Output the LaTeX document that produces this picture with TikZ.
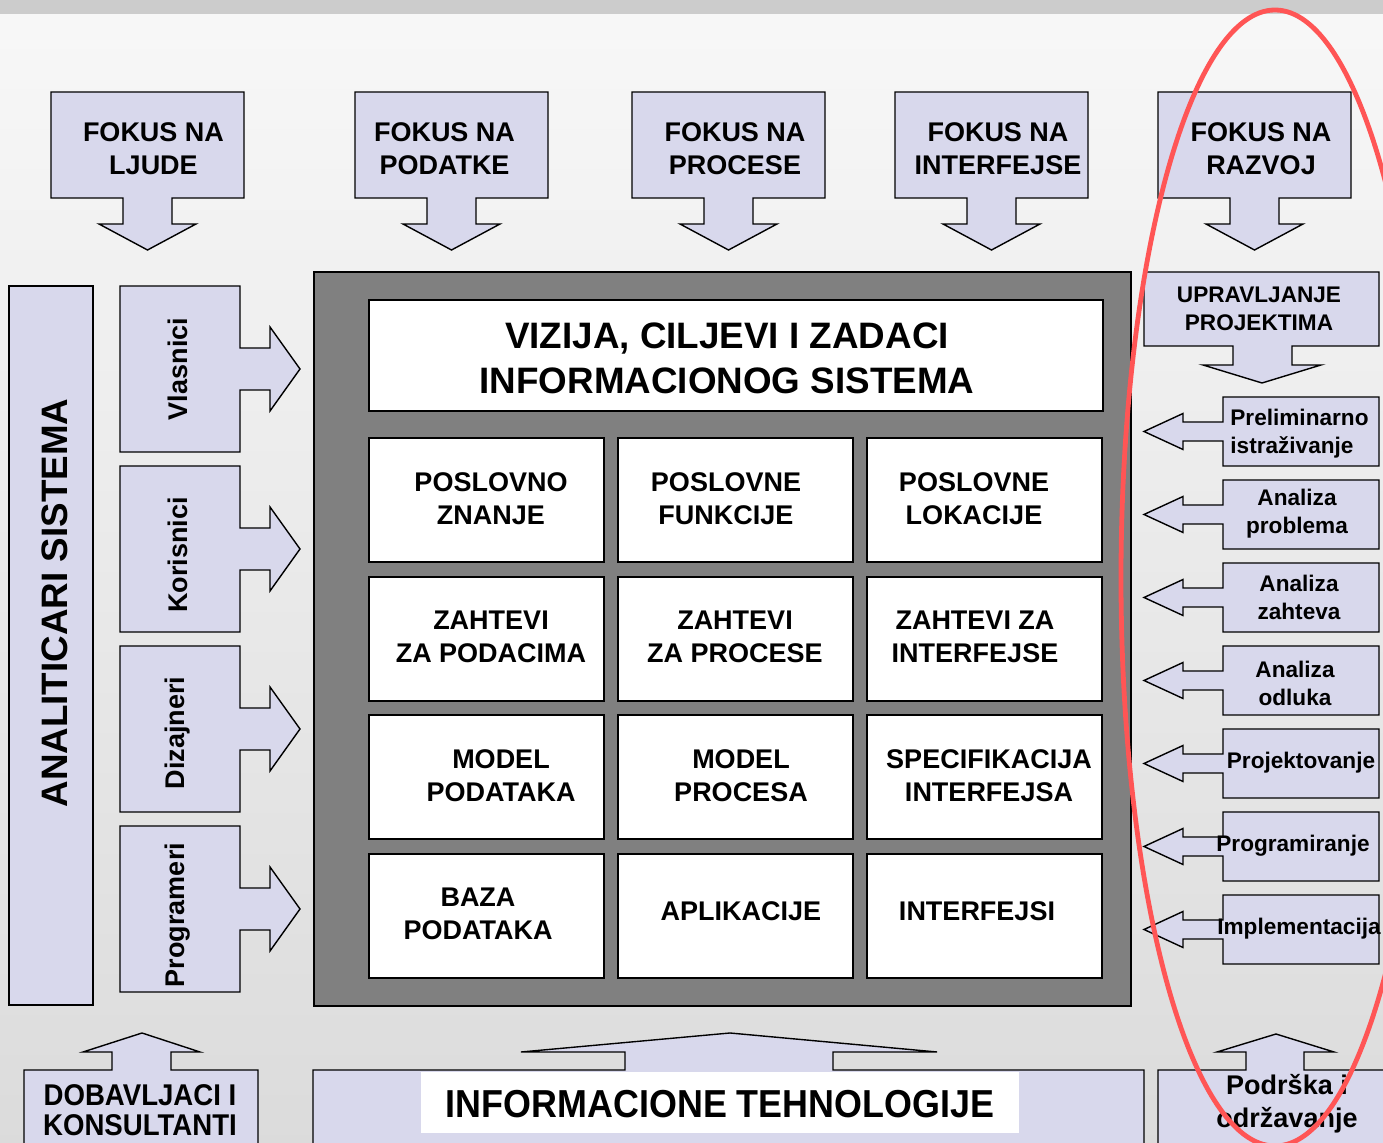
\documentclass[tikz,border=0pt]{standalone}
\usepackage{fontspec}
\setmainfont{Liberation Sans}
\newfontfamily\uskifont{Liberation Sans}[FakeStretch=0.92]

\definecolor{lavanda}{RGB}{216,216,236}
\definecolor{siva}{RGB}{128,128,128}
\definecolor{crvena}{RGB}{255,85,85}

\tikzset{
  kutija/.style={draw=black, line width=0.7pt, fill=lavanda},
  bela/.style={draw=black, line width=0.7pt, fill=white},
  natpis/.style={font=\bfseries\fontsize{13.5}{16.5}\selectfont, align=center, inner sep=0pt},
  mali/.style={font=\bfseries\fontsize{11.3}{14}\selectfont, align=center, inner sep=0pt},
  veliki/.style={font=\bfseries\fontsize{18.4}{22.5}\selectfont, align=center, inner sep=0pt},
  uski/.style={font=\uskifont\bfseries\fontsize{15}{15}\selectfont, align=center, inner sep=0pt},
}

\begin{document}
\begin{tikzpicture}[x=0.5pt, y=-0.5pt]
  \clip (0,0) rectangle (1383,1143);

  % Pozadina
  \fill[top color=black!3, bottom color=black!14] (0,14) rectangle (1383,1143);
  \fill[black!20] (0,0) rectangle (1383,14);

  % Fokus kutije gore
  \foreach \x in {51,355,632,895,1158}
    \draw[kutija] (\x,92) -- ++(193,0) -- ++(0,106) -- ++(-72,0) -- ++(0,26)
      -- ++(24,0) -- ++(-48.5,26) -- ++(-48.5,-26) -- ++(24,0) -- ++(0,-26) -- ++(-72,0) -- cycle;
  \node[natpis] (fokusLjude) at (153.5,149) {FOKUS NA\\LJUDE};
  \node[natpis] (fokusPodatke) at (444.5,149) {FOKUS NA\\PODATKE};
  \node[natpis] (fokusProcese) at (735,149) {FOKUS NA\\PROCESE};
  \node[natpis] (fokusInterfejse) at (998,149) {FOKUS NA\\INTERFEJSE};
  \node[natpis] (fokusRazvoj) at (1261,149) {FOKUS NA\\RAZVOJ};

  % Analiticari i ucesnici
  \draw[kutija] (9,286) rectangle (93,1005);
  \node[veliki, rotate=90] (analiticari) at (55,603) {ANALITICARI SISTEMA};
  \foreach \y in {286,466,646,826}
    \draw[kutija] (120,\y) -- (240,\y) -- (240,\y+62) -- (270,\y+62) -- (270,\y+41)
      -- (300,\y+83) -- (270,\y+125) -- (270,\y+104) -- (240,\y+104) -- (240,\y+166)
      -- (120,\y+166) -- cycle;
  \node[natpis, rotate=90] (vlasnici) at (178,369) {Vlasnici};
  \node[natpis, rotate=90] (korisnici) at (178,555) {Korisnici};
  \node[natpis, rotate=90] (dizajneri) at (178,733) {Dizajneri};
  \node[natpis, rotate=90] (programeri) at (178,915) {Programeri};

  % Centralni blok
  \draw[line width=0.7pt, fill=siva] (314,272) rectangle (1131,1006);
  \draw[bela] (369,300) rectangle (1103,411);
  \node[veliki] (vizija) at (727,358.5) {VIZIJA, CILJEVI I ZADACI\\INFORMACIONOG SISTEMA};
  \foreach \x in {369,618,867}
    \foreach \y in {438,577,715,854}
      \draw[bela] (\x,\y) rectangle ++(235,124);
  \node[natpis] (znanje) at (491,498.5) {POSLOVNO\\ZNANJE};
  \node[natpis] (funkcije) at (726,498.5) {POSLOVNE\\FUNKCIJE};
  \node[natpis] (lokacije) at (974,498.5) {POSLOVNE\\LOKACIJE};
  \node[natpis] (zPodaci) at (491,636.5) {ZAHTEVI\\ZA PODACIMA};
  \node[natpis] (zProcesi) at (735,636.5) {ZAHTEVI\\ZA PROCESE};
  \node[natpis] (zInterfejsi) at (975,636.5) {ZAHTEVI ZA\\INTERFEJSE};
  \node[natpis] (mPodataka) at (501,775.5) {MODEL\\PODATAKA};
  \node[natpis] (mProcesa) at (741,775.5) {MODEL\\PROCESA};
  \node[natpis] (specifikacija) at (989,775.5) {SPECIFIKACIJA\\INTERFEJSA};
  \node[natpis] (baza) at (478,913.5) {BAZA\\PODATAKA};
  \node[natpis] (aplikacije) at (741,911) {APLIKACIJE};
  \node[natpis] (interfejsi) at (977,911) {INTERFEJSI};

  % Razvoj, desna strana
  \draw[kutija] (1144,272) -- (1379,272) -- (1379,346) -- (1292,346) -- (1292,365)
    -- (1321,365) -- (1262,383) -- (1203,365) -- (1233,365) -- (1233,346) -- (1144,346) -- cycle;
  \node[mali] (upravljanje) at (1259,309) {UPRAVLJANJE\\PROJEKTIMA};
  \foreach \y in {397,480,563,646,729,812,895}
    \draw[kutija] (1223,\y) -- (1379,\y) -- (1379,\y+69) -- (1223,\y+69) -- (1223,\y+44)
      -- (1183,\y+44) -- (1183,\y+52.5) -- (1144,\y+34.5) -- (1183,\y+16.5) -- (1183,\y+25)
      -- (1223,\y+25) -- cycle;
  \node[mali, align=left, anchor=west] (preliminarno) at (1230,434) {Preliminarno\\istraživanje};
  \node[mali] (anProblema) at (1297,514) {Analiza\\problema};
  \node[mali] (anZahteva) at (1299,597) {Analiza\\zahteva};
  \node[mali] (anOdluka) at (1295,683) {Analiza\\odluka};
  \node[mali] (projektovanje) at (1301,763) {Projektovanje};
  \node[mali] (programiranje) at (1293,846) {Programiranje};
  \node[mali] (implementacija) at (1299,929) {Implementacija};

  % Donji red
  \draw[kutija] (24,1160) -- (24,1070) -- (112,1070) -- (112,1052) -- (83,1052) -- (142,1033)
    -- (200,1052) -- (171,1052) -- (171,1070) -- (258,1070) -- (258,1160) -- cycle;
  \node[uski] (dobavljaci) at (140,1110) {DOBAVLJACI I\\KONSULTANTI};
  \draw[kutija] (313,1160) -- (313,1070) -- (625,1070) -- (625,1052) -- (521,1052) -- (730,1033)
    -- (937,1052) -- (833,1052) -- (833,1070) -- (1144,1070) -- (1144,1160) -- cycle;
  \node[uski, font=\uskifont\bfseries\fontsize{19.5}{20}\selectfont, fill=white,
    minimum width=299pt, minimum height=30.5pt] (tehnologije) at (720,1102.5) {};
  \node[uski, font=\uskifont\bfseries\fontsize{19.5}{20}\selectfont] (tehnTekst) at (720,1104.5) {INFORMACIONE TEHNOLOGIJE};
  \draw[kutija] (1158,1160) -- (1158,1070) -- (1246,1070) -- (1246,1052) -- (1217,1052) -- (1276,1034)
    -- (1334,1052) -- (1304,1052) -- (1304,1070) -- (1400,1070) -- (1400,1160) -- cycle;
  \node[natpis] (podrska) at (1287,1104) {Podrška i\\održavanje};

  % Crvena elipsa
  \draw[crvena, line width=2.4pt] (1275,578) ellipse [x radius=154, y radius=568];
\end{tikzpicture}
\end{document}
